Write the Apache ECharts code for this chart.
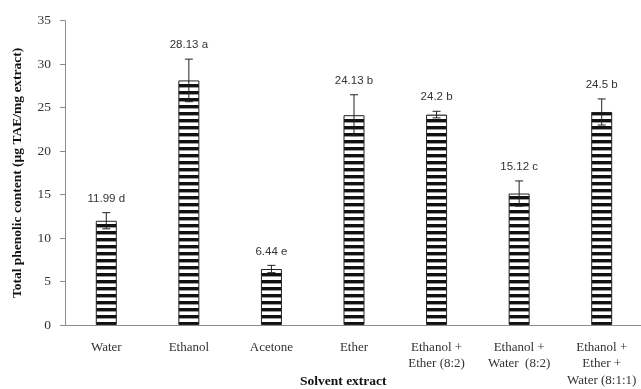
<!DOCTYPE html>
<html>
<head>
<meta charset="utf-8">
<script src="https://cdn.jsdelivr.net/npm/echarts@6/dist/echarts.min.js"></script>
<style>
  html, body { margin: 0; padding: 0; background: #fff; }
  #chart { width: 641px; height: 389px; }
</style>
</head>
<body>
<div id="chart"></div>
<script>
// Solvent extracts on the x axis
const categories = [
  'Water',
  'Ethanol',
  'Acetone',
  'Ether',
  'Ethanol +\nEther (8:2)',
  'Ethanol +\nWater  (8:2)',
  'Ethanol +\nEther +\nWater (8:1:1)'
];
// Mean total phenolic content (µg TAE/mg extract)
const means = [11.99, 28.13, 6.44, 24.13, 24.2, 15.12, 24.5];
// Standard deviation used for the error bars
const errors = [0.93, 2.45, 0.42, 2.35, 0.38, 1.45, 1.5];
// Significance letters shown next to each mean
const letters = ['d', 'a', 'e', 'b', 'b', 'c', 'b'];
// Y axis range and step
const yMin = 0, yMax = 35, yStep = 5;

// Horizontal stripe fill for the bars
function stripePattern() {
  const c = document.createElement('canvas');
  c.width = 4; c.height = 7;
  const g = c.getContext('2d');
  g.fillStyle = '#ffffff';
  g.fillRect(0, 0, 4, 7);
  g.fillStyle = '#111111';
  g.fillRect(0, 0, 4, 3);
  g.fillStyle = '#9a9a9a';
  g.fillRect(0, 3, 4, 1);
  return c;
}

const chart = echarts.init(document.getElementById('chart'), null, { renderer: 'canvas' });

const errData = means.map((m, i) => [i, m - errors[i], m + errors[i], m, letters[i]]);

chart.setOption({
  animation: false,
  backgroundColor: '#ffffff',
  grid: { left: 65, right: -2, top: 20.7, bottom: 64, containLabel: false, outerBoundsMode: 'none' },
  xAxis: {
    type: 'category',
    data: categories,
    axisLine: { lineStyle: { color: '#8c8c8c', width: 1 } },
    axisTick: { show: false },
    axisLabel: {
      interval: 0,
      margin: 14,
      color: '#333333',
      fontFamily: 'Liberation Serif',
      fontSize: 13,
      lineHeight: 16.5,
      align: 'center'
    }
  },
  yAxis: {
    type: 'value',
    min: yMin,
    max: yMax,
    interval: yStep,
    name: 'Total phenolic content (µg TAE/mg extract)',
    nameLocation: 'middle',
    nameGap: 40,
    nameRotate: 90,
    nameTextStyle: {
      fontFamily: 'Liberation Serif',
      fontWeight: 'bold',
      fontSize: 13.5,
      color: '#111111'
    },
    axisLine: { show: true, lineStyle: { color: '#8c8c8c', width: 1 } },
    axisTick: { show: true, length: 5, lineStyle: { color: '#8c8c8c' } },
    splitLine: { show: false },
    axisLabel: {
      margin: 14,
      color: '#333333',
      fontFamily: 'Liberation Serif',
      fontSize: 13.5
    }
  },
  graphic: [{
    type: 'text',
    left: 300,
    top: 375,
    style: {
      text: 'Solvent extract',
      font: 'bold 13.5px "Liberation Serif"',
      fill: '#111111'
    }
  }],
  series: [
    {
      type: 'bar',
      data: means,
      barWidth: 21,
      itemStyle: {
        color: { image: stripePattern(), repeat: 'repeat' },
        borderColor: '#222222',
        borderWidth: 1
      },
      z: 2
    },
    {
      type: 'custom',
      data: errData,
      z: 5,
      renderItem: function (params, api) {
        const x = api.coord([api.value(0), 0])[0];
        const lo = api.coord([api.value(0), api.value(1)])[1];
        const hi = api.coord([api.value(0), api.value(2)])[1];
        const cap = 4;
        const stroke = { stroke: '#222222', lineWidth: 1 };
        return {
          type: 'group',
          children: [
            { type: 'line', shape: { x1: x, y1: hi, x2: x, y2: lo }, style: stroke },
            { type: 'line', shape: { x1: x - cap, y1: hi, x2: x + cap, y2: hi }, style: stroke },
            { type: 'line', shape: { x1: x - cap, y1: lo, x2: x + cap, y2: lo }, style: stroke },
            {
              type: 'text',
              x: x,
              y: hi - 14,
              style: {
                text: api.value(3) + ' ' + api.value(4),
                font: '11.5px "Liberation Sans"',
                fill: '#333333',
                align: 'center',
                verticalAlign: 'middle'
              }
            }
          ]
        };
      }
    }
  ]
});
</script>
</body>
</html>
